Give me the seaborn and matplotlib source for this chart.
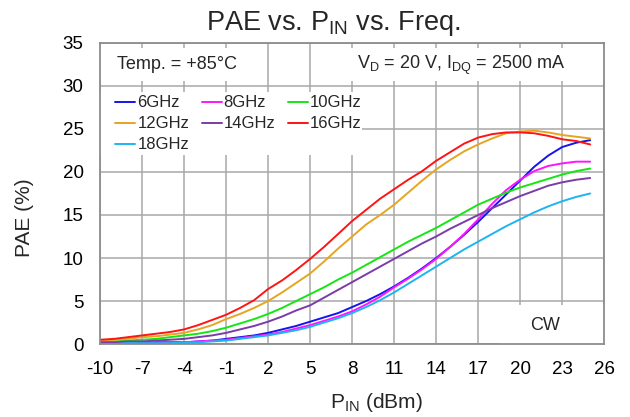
import numpy as np, pandas as pd
import matplotlib
matplotlib.use("Agg")
import matplotlib.pyplot as plt
from matplotlib.patches import Rectangle
import seaborn as sns

pin = list(range(-10, 26))
pae_6 = [0.1, 0.1, 0.1, 0.1, 0.2, 0.2, 0.2, 0.3, 0.4, 0.6, 0.8, 1.0, 1.3, 1.7, 2.1, 2.6, 3.1, 3.6,
         4.3, 5.0, 5.8, 6.7, 7.7, 8.8, 10.0, 11.3, 12.7, 14.2, 15.8, 17.4, 19.0, 20.6, 21.9, 22.9, 23.4, 23.7]
pae_8 = [0.1, 0.1, 0.1, 0.1, 0.1, 0.2, 0.2, 0.3, 0.4, 0.5, 0.7, 0.9, 1.1, 1.4, 1.8, 2.2, 2.7, 3.2,
         3.8, 4.6, 5.5, 6.6, 7.6, 8.7, 9.9, 11.3, 12.8, 14.5, 16.3, 17.9, 19.1, 20.1, 20.7, 21.0, 21.2, 21.2]
pae_10 = [0.3, 0.3, 0.4, 0.5, 0.6, 0.8, 1.0, 1.2, 1.5, 1.9, 2.4, 2.9, 3.5, 4.2, 5.0, 5.8, 6.6, 7.5,
          8.3, 9.2, 10.1, 11.0, 11.9, 12.7, 13.5, 14.4, 15.3, 16.2, 16.9, 17.6, 18.2, 18.7, 19.2, 19.7, 20.1, 20.4]
pae_12 = [0.4, 0.5, 0.6, 0.8, 0.9, 1.1, 1.3, 1.7, 2.2, 2.9, 3.5, 4.2, 5.0, 6.0, 7.1, 8.2, 9.6, 11.1,
          12.5, 13.9, 15.0, 16.2, 17.6, 19.0, 20.3, 21.4, 22.4, 23.2, 23.9, 24.5, 24.7, 24.8, 24.6, 24.3, 24.1, 23.9]
pae_14 = [0.2, 0.2, 0.3, 0.3, 0.4, 0.5, 0.6, 0.8, 1.0, 1.3, 1.7, 2.1, 2.6, 3.2, 3.9, 4.5, 5.4, 6.3,
          7.2, 8.1, 9.0, 9.9, 10.8, 11.7, 12.5, 13.4, 14.2, 15.0, 15.8, 16.5, 17.2, 17.8, 18.4, 18.8, 19.1, 19.3]
pae_16 = [0.5, 0.6, 0.8, 1.0, 1.2, 1.4, 1.7, 2.2, 2.8, 3.4, 4.2, 5.1, 6.4, 7.4, 8.6, 9.9, 11.3, 12.8,
          14.3, 15.6, 16.9, 18.0, 19.1, 20.1, 21.3, 22.3, 23.3, 24.0, 24.4, 24.6, 24.6, 24.5, 24.2, 23.8, 23.6, 23.2]
pae_18 = [0.0, 0.0, 0.1, 0.1, 0.1, 0.1, 0.2, 0.2, 0.3, 0.4, 0.6, 0.8, 1.0, 1.3, 1.6, 2.0, 2.5, 3.0,
          3.6, 4.3, 5.1, 6.0, 7.0, 8.0, 9.0, 10.0, 11.0, 11.9, 12.8, 13.7, 14.5, 15.3, 16.0, 16.6, 17.1, 17.5]
freqs = ["6GHz", "8GHz", "10GHz", "12GHz", "14GHz", "16GHz", "18GHz"]
colors = ["#1414f0", "#ff14ff", "#14e614", "#e6a520", "#7a3ca8", "#ff1414", "#1eb4f0"]

series = [pae_6, pae_8, pae_10, pae_12, pae_14, pae_16, pae_18]
df = pd.concat([pd.DataFrame({"pin": pin, "pae": s, "freq": f}) for f, s in zip(freqs, series)])

sns.set_theme(style="white")
plt.rcParams["font.family"] = ["Liberation Sans", "DejaVu Sans"]
plt.rcParams["axes.unicode_minus"] = False
grid_c = "#a8a8a8"

fig = plt.figure(figsize=(6.3, 4.17), dpi=100)
ax = fig.add_axes([0.159, 0.175, 0.8, 0.722])
sns.lineplot(data=df, x="pin", y="pae", hue="freq", palette=dict(zip(freqs, colors)),
             linewidth=1.4, ax=ax, legend=False, zorder=2)

ax.set_xlim(-10, 26); ax.set_ylim(0, 35)
ax.set_xticks(range(-10, 27, 3)); ax.set_yticks(range(0, 36, 5))
ax.grid(True, color=grid_c, linewidth=1.1)
ax.set_axisbelow(True)
for sp in ax.spines.values():
    sp.set_color("#8c8c8c"); sp.set_linewidth(1.3)
ax.tick_params(length=0, labelsize=13.5, colors="black")
ax.tick_params(axis="x", pad=12)
ax.tick_params(axis="y", pad=12)
ax.set_xlabel(""); ax.set_ylabel("")
fig.text(376 / 630, 1 - 408 / 417, "P$_{\\mathregular{IN}}$ (dBm)", fontsize=15, ha="center", va="baseline")
fig.text(25 / 630, 1 - 218 / 417, "PAE (%)", fontsize=15, ha="center", va="center", rotation=90)
fig.text(333 / 630, 1 - 30 / 417, "PAE vs. P$_{\\mathregular{IN}}$ vs. Freq.", fontsize=19.5,
         ha="center", va="baseline")

# white boxes behind the notes
for x0, y0, w, h in [(-10, 30.6, 10.5, 3.8), (5.1, 30.6, 20.9, 3.8), (-10, 22.0, 18.7, 7.3), (18.5, 0, 7.5, 4.5)]:
    ax.add_patch(Rectangle((x0, y0), w, h, facecolor="white", edgecolor="none", zorder=1))

ax.text(-8.8, 32.5, "Temp. = +85°C", fontsize=13, va="center", ha="left", zorder=3)
ax.text(23.2, 32.4, "V$_{\\mathregular{D}}$ = 20 V, I$_{\\mathregular{DQ}}$ = 2500 mA", fontsize=13,
        va="center", ha="right", zorder=3)
ax.text(21.8, 2.1, "CW", fontsize=13, va="center", ha="center", zorder=3)

# row-wise legend order for 3 columns
order = [0, 3, 6, 1, 4, 2, 5]
handles = [plt.Line2D([], [], color=colors[i], linewidth=1.4) for i in order]
leg = ax.legend(handles, [freqs[i] for i in order], loc="upper left", bbox_to_anchor=(0.03, 0.826), ncol=3,
                fontsize=12, frameon=False, handlelength=1.2, handletextpad=0.12,
                columnspacing=0.75, labelspacing=0.36, borderpad=0, borderaxespad=0)
leg.set_zorder(3)

fig.savefig("out.png", dpi=100)
